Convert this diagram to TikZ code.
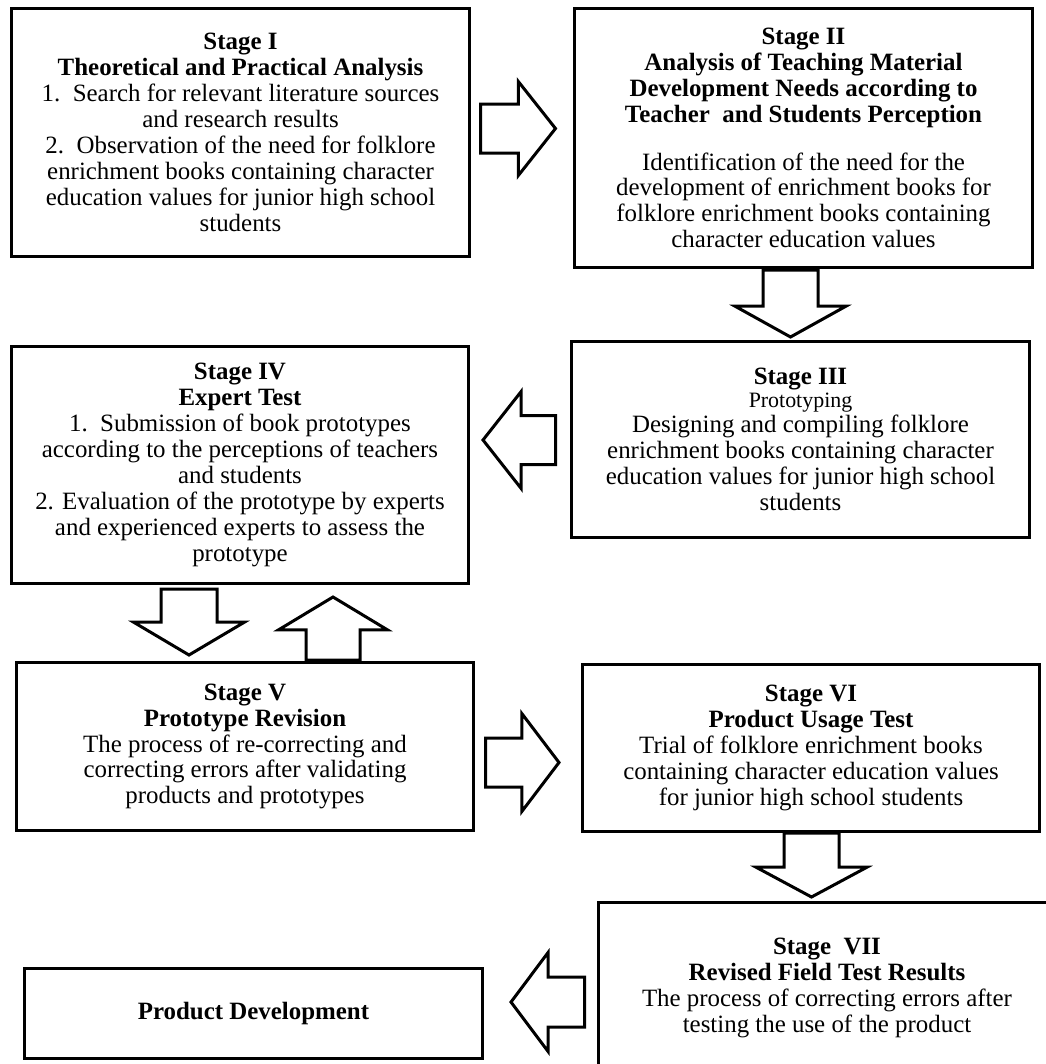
\documentclass[tikz,border=0pt]{standalone}
\usepackage{fontspec}
\setmainfont{Liberation Serif}
\usetikzlibrary{shapes.arrows}

\begin{document}
\begin{tikzpicture}[
	x=1bp, y=-1bp,
	stage/.style={
		rectangle,
		draw=black,
		line width=3bp,
		align=center,
		inner sep=0pt
		},
	barrow/.style={
		single arrow,
		draw=black,
		line width=3bp,
		inner sep=0pt,
		outer sep=0pt,
		text depth=0pt,
		anchor=tail
		},
	every node/.style={font=\fontsize{25}{26}\selectfont}
]
\useasboundingbox (0,0) rectangle (1046,1064);

% Stages
\node [stage, minimum width=458bp, minimum height=248bp] (Stage 1) at (240.5,132.5) {%
	\textbf{Stage I}\\
	\textbf{Theoretical and Practical Analysis}\\
	1.\ \ Search for relevant literature sources\\
	and research results\\
	2.\ \ Observation of the need for folklore\\
	enrichment books containing character\\
	education values for junior high school\\
	students};
\node [stage, minimum width=458bp, minimum height=259bp] (Stage 2) at (803.5,138) {%
	\textbf{Stage II}\\
	\textbf{Analysis of Teaching Material}\\
	\textbf{Development Needs according to}\\
	\textbf{Teacher\ \ and Students Perception}\\[22bp]
	Identification of the need for the\\
	development of enrichment books for\\
	folklore enrichment books containing\\
	character education values};
\node [stage, minimum width=458bp, minimum height=196bp] (Stage 3) at (800.5,439.5) {%
	\textbf{Stage III}\\[-3bp]
	{\fontsize{22}{22}\selectfont Prototyping}\\[-1bp]
	Designing and compiling folklore\\
	enrichment books containing character\\
	education values for junior high school\\
	students};
\node [stage, minimum width=457bp, minimum height=237bp] (Stage 4) at (240,465) {%
	\textbf{Stage IV}\\
	\textbf{Expert Test}\\
	1.\ \ Submission of book prototypes\\
	according to the perceptions of teachers\\
	and students\\
	2. Evaluation of the prototype by experts\\
	and experienced experts to assess the\\
	prototype};
\node [stage, minimum width=457bp, minimum height=168bp] (Stage 5) at (245,746.5) {%
	\textbf{Stage V}\\
	\textbf{Prototype Revision}\\
	The process of re-correcting and\\
	correcting errors after validating\\
	products and prototypes};
\node [stage, minimum width=457bp, minimum height=167bp] (Stage 6) at (811,748) {%
	\textbf{Stage VI}\\
	\textbf{Product Usage Test}\\
	Trial of folklore enrichment books\\
	containing character education values\\
	for junior high school students};
\node [stage, minimum width=457bp, minimum height=171bp] (Stage 7) at (827,988) {%
	\textbf{Stage\ \ VII}\\
	\textbf{Revised Field Test Results}\\
	The process of correcting errors after\\
	testing the use of the product};
\node [stage, minimum width=458bp, minimum height=90bp] (Product) at (253.5,1013.5) {%
	\textbf{Product Development}};

% Block arrows
\node [barrow, text height=46bp, single arrow head extend=22.5bp,
	single arrow tip angle=103.3, minimum height=75bp] (Arrow 12) at (480.5,128.5) {};
\node [barrow, rotate=-90, text height=52bp, single arrow head extend=28bp,
	single arrow tip angle=121.9, minimum height=67bp] (Arrow 23) at (790.5,270) {};
\node [barrow, rotate=180, text height=46bp, single arrow head extend=24bp,
	single arrow tip angle=103.6, minimum height=72.5bp] (Arrow 34) at (555.5,440) {};
\node [barrow, rotate=-90, text height=53bp, single arrow head extend=27.5bp,
	single arrow tip angle=118.7, minimum height=66bp] (Arrow 45) at (189,589) {};
\node [barrow, rotate=90, text height=51bp, single arrow head extend=27.5bp,
	single arrow tip angle=117.8, minimum height=63bp] (Arrow 54) at (333,660) {};
\node [barrow, text height=46bp, single arrow head extend=24.5bp,
	single arrow tip angle=105.6, minimum height=73.5bp] (Arrow 56) at (485.5,762.5) {};
\node [barrow, rotate=-90, text height=52bp, single arrow head extend=28bp,
	single arrow tip angle=123.5, minimum height=64bp] (Arrow 67) at (811.5,833) {};
\node [barrow, rotate=180, text height=47bp, single arrow head extend=24.5bp,
	single arrow tip angle=106.3, minimum height=73.5bp] (Arrow 78) at (584.5,1002) {};

\end{tikzpicture}
\end{document}
